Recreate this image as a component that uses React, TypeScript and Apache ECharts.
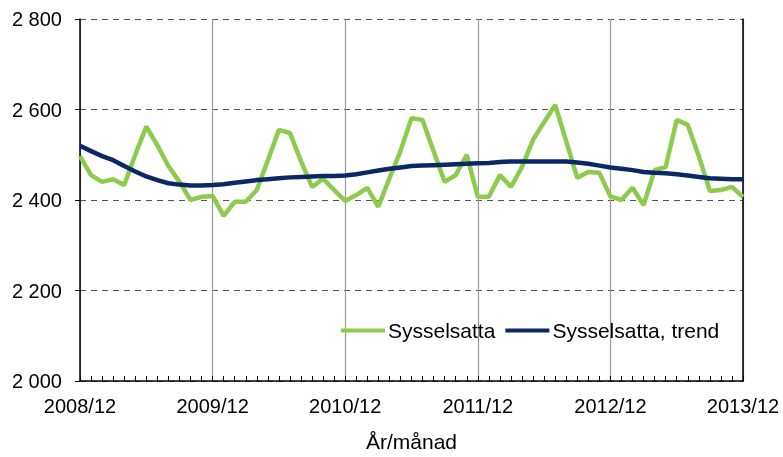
import React, { useEffect, useRef } from "react";
import * as echarts from "echarts";

// categories: 2008/12 .. 2013/12 (monthly)
const months: string[] = ["2008/12"];
for (let y = 2009; y <= 2013; y++) {
  for (let m = 1; m <= 12; m++) months.push(`${y}/${m < 10 ? "0" + m : m}`);
}

const sysselsatta = [
  2497, 2455, 2440, 2446, 2433, 2500, 2562, 2521, 2475, 2440, 2400, 2407, 2409,
  2365, 2396, 2396, 2422, 2488, 2555, 2548, 2486, 2429, 2447, 2422, 2398,
  2411, 2427, 2385, 2448, 2508, 2581, 2577, 2508, 2440, 2455, 2500, 2407,
  2407, 2455, 2429, 2473, 2533, 2572, 2610, 2530, 2449, 2462, 2460, 2408,
  2400, 2427, 2389, 2466, 2473, 2577, 2566, 2497, 2420, 2422, 2429, 2407,
];

const trend = [
  2520, 2508, 2497, 2488, 2475, 2463, 2452, 2444, 2437, 2434, 2432, 2432, 2433,
  2435, 2438, 2441, 2444, 2446, 2448, 2450, 2451, 2452, 2453, 2453, 2454,
  2457, 2461, 2465, 2469, 2472, 2475, 2476, 2477, 2478, 2479, 2480, 2481,
  2482, 2484, 2485, 2485, 2485, 2485, 2485, 2485, 2483, 2480, 2476, 2472,
  2469, 2466, 2462, 2460, 2459, 2457, 2454, 2451, 2448, 2447, 2446, 2446,
];

const seriesNames = ["Sysselsatta", "Sysselsatta, trend"];
const xAxisTitle = "År/månad";

export default function App() {
  const ref = useRef<HTMLDivElement>(null);
  useEffect(() => {
    if (!ref.current) return;
    const chart = echarts.init(ref.current, undefined, { renderer: "svg" });
    const font = "Liberation Sans, Arial, sans-serif";
    chart.setOption({
      animation: false,
      textStyle: { fontFamily: font },
      grid: { left: 80, right: 40, top: 19, bottom: 74, containLabel: false },
      legend: {
        data: seriesNames,
        left: 336,
        top: 315,
        itemWidth: 44,
        itemHeight: 4,
        itemGap: 10,
        icon: "rect",
        textStyle: { fontSize: 21, color: "#000", fontFamily: font, padding: [0, 0, 0, -2] },
      },
      xAxis: {
        type: "category",
        data: months,
        boundaryGap: false,
        name: xAxisTitle,
        nameLocation: "middle",
        nameGap: 50,
        nameTextStyle: { fontSize: 21, color: "#000", fontFamily: font },
        axisLine: { lineStyle: { color: "#000", width: 1.5 } },
        axisTick: { show: true, inside: true, length: 5, interval: 0, lineStyle: { color: "#000" } },
        axisLabel: {
          interval: (i: number) => i % 12 === 0,
          fontSize: 20,
          color: "#000",
          margin: 15,
          fontFamily: font,
        },
        splitLine: {
          show: true,
          interval: (i: number) => i % 12 === 0,
          lineStyle: { color: "#999", width: 1.2, type: "solid" },
        },
      },
      yAxis: [
        {
          type: "value",
          min: 2000,
          max: 2800,
          interval: 200,
          axisLine: { show: true, lineStyle: { color: "#000", width: 1.5 } },
          axisTick: { show: true, length: 5, lineStyle: { color: "#000" } },
          axisLabel: {
            fontSize: 20,
            color: "#000",
            margin: 18,
            fontFamily: font,
            formatter: (v: number) => {
              const s = String(v);
              return s.length > 3 ? s.slice(0, s.length - 3) + " " + s.slice(-3) : s;
            },
          },
          splitLine: { show: true, lineStyle: { color: "#555", type: [6, 5], width: 1.2 } },
        },
        {
          type: "value",
          min: 2000,
          max: 2800,
          interval: 200,
          position: "right",
          axisLine: { show: true, lineStyle: { color: "#000", width: 1.5 } },
          axisTick: { show: false },
          axisLabel: { show: false },
          splitLine: { show: false },
        },
      ],
      series: [
        {
          name: seriesNames[0],
          type: "line",
          data: sysselsatta,
          symbol: "none",
          lineStyle: { color: "#8DCB4C", width: 4.5 },
          itemStyle: { color: "#8DCB4C" },
          z: 2,
        },
        {
          name: seriesNames[1],
          type: "line",
          data: trend,
          symbol: "none",
          lineStyle: { color: "#0B2866", width: 4.5 },
          itemStyle: { color: "#0B2866" },
          z: 3,
        },
      ],
    });
    return () => chart.dispose();
  }, []);
  return (
    <div
      ref={ref}
      style={{ position: "fixed", left: 0, top: 0, width: 783, height: 457 }}
    />
  );
}
